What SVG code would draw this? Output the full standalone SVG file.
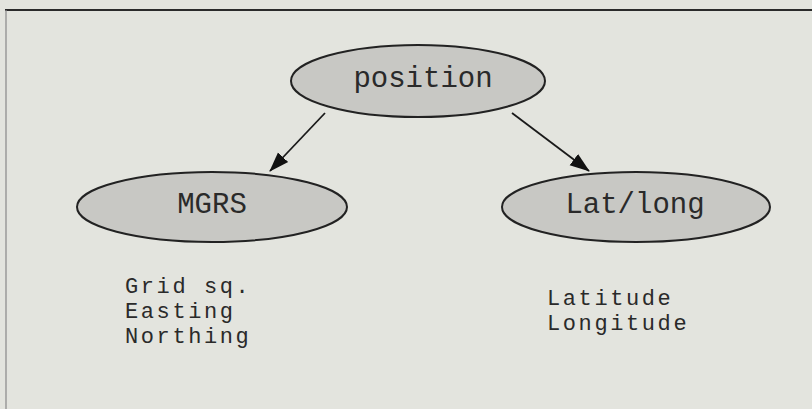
<svg xmlns="http://www.w3.org/2000/svg" width="812" height="409" viewBox="0 0 812 409">
<defs>
<marker id="ah" markerWidth="20" markerHeight="16" refX="19" refY="8" orient="auto" markerUnits="userSpaceOnUse" viewBox="0 0 20 16">
<path d="M0,1 L20,8 L0,15 Z" fill="#111"/>
</marker>
</defs>
<style>
.node ellipse{fill:#c8c8c4;stroke:#222;stroke-width:2}
.lbl{font-family:"Liberation Mono","Courier New",monospace;fill:#2a2a2a}
.big{font-size:29px}
.small{font-size:22px;letter-spacing:2.6px}
.conn line{stroke:#1a1a1a;stroke-width:1.8}
</style>
<rect x="0" y="0" width="812" height="409" fill="#e3e4de"/>
<line x1="5" y1="10" x2="812" y2="10" stroke="#2a2a2a" stroke-width="2"/>
<line x1="6" y1="10" x2="6" y2="409" stroke="#888" stroke-width="1.2"/>
<g id="connectors" class="conn">
<line x1="325" y1="113" x2="270" y2="171" marker-end="url(#ah)"/>
<line x1="512" y1="113" x2="589" y2="171" marker-end="url(#ah)"/>
</g>
<g id="node-position" class="node">
<ellipse cx="418" cy="81" rx="127" ry="36"/>
<text class="lbl big" x="423" y="87" text-anchor="middle">position</text>
</g>
<g id="node-mgrs" class="node">
<ellipse cx="212" cy="207" rx="135" ry="35"/>
<text class="lbl big" x="212" y="213" text-anchor="middle">MGRS</text>
</g>
<g id="node-latlong" class="node">
<ellipse cx="636" cy="207" rx="134" ry="35"/>
<text class="lbl big" x="635" y="213" text-anchor="middle">Lat/long</text>
</g>
<g id="text-mgrs-fields">
<text class="lbl small" x="125" y="293">Grid sq.</text>
<text class="lbl small" x="125" y="318">Easting</text>
<text class="lbl small" x="125" y="343">Northing</text>
</g>
<g id="text-latlong-fields">
<text class="lbl small" x="547" y="305">Latitude</text>
<text class="lbl small" x="547" y="330">Longitude</text>
</g>
</svg>
